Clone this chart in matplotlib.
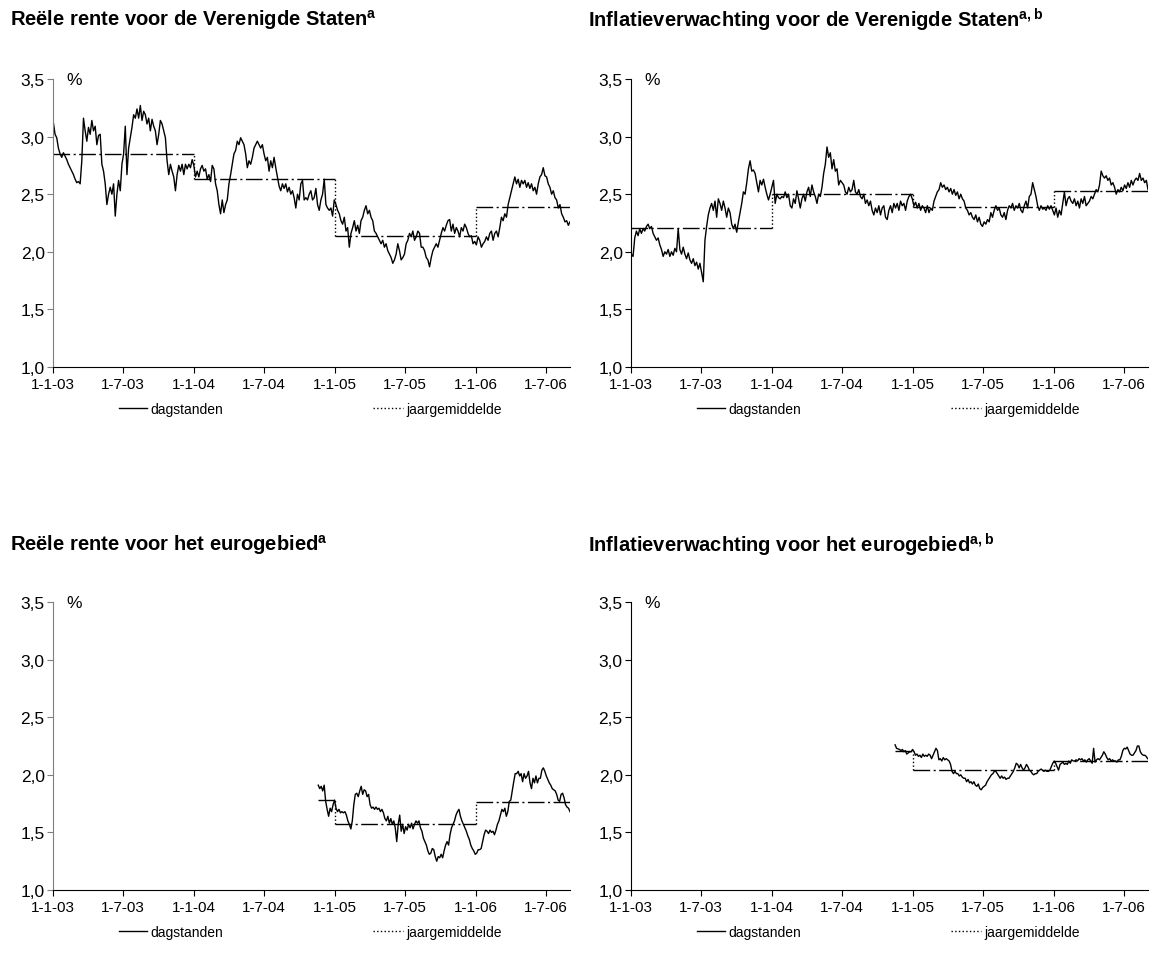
import numpy as np
import pandas as pd
import matplotlib
matplotlib.use("Agg")
import matplotlib.pyplot as plt
from matplotlib.lines import Line2D
from matplotlib.ticker import FuncFormatter

plt.rcParams['font.family'] = ['Liberation Sans', 'DejaVu Sans']
plt.rcParams['mathtext.fontset'] = 'custom'
plt.rcParams['mathtext.bf'] = 'Liberation Sans:bold'
plt.rcParams['mathtext.rm'] = 'Liberation Sans'

# ---- data ----
# daily values, evenly spread between the start and end date of each series
us_rente_start, us_rente_end = '2003-01-02', '2006-09-01'
us_rente = [
    3.12, 3.02, 2.99, 2.90, 2.85, 2.82, 2.86, 2.83, 2.80, 2.76, 2.73, 2.70, 2.67, 2.63, 2.60, 2.61,
    2.59, 2.79, 3.16, 3.05, 2.96, 3.08, 3.02, 3.14, 3.05, 3.09, 2.93, 3.01, 3.02, 2.76, 2.70, 2.59,
    2.41, 2.50, 2.56, 2.50, 2.59, 2.31, 2.50, 2.62, 2.53, 2.76, 2.85, 3.09, 2.67, 2.90, 2.99, 3.08,
    3.19, 3.16, 3.24, 3.16, 3.27, 3.14, 3.22, 3.19, 3.11, 3.16, 3.05, 3.15, 3.09, 3.05, 2.93, 3.02,
    3.14, 3.11, 3.05, 2.99, 2.79, 2.67, 2.76, 2.70, 2.65, 2.53, 2.67, 2.75, 2.70, 2.76, 2.67, 2.76,
    2.72, 2.76, 2.73, 2.80, 2.75, 2.65, 2.70, 2.65, 2.72, 2.75, 2.70, 2.72, 2.63, 2.67, 2.61, 2.75,
    2.72, 2.59, 2.53, 2.41, 2.33, 2.45, 2.34, 2.41, 2.45, 2.59, 2.67, 2.76, 2.85, 2.88, 2.96, 2.93,
    2.99, 2.96, 2.93, 2.85, 2.73, 2.79, 2.76, 2.82, 2.90, 2.93, 2.96, 2.93, 2.90, 2.93, 2.85, 2.79,
    2.82, 2.70, 2.79, 2.73, 2.82, 2.73, 2.65, 2.57, 2.53, 2.59, 2.55, 2.59, 2.52, 2.56, 2.50, 2.53,
    2.47, 2.38, 2.50, 2.45, 2.59, 2.62, 2.45, 2.47, 2.45, 2.50, 2.53, 2.45, 2.47, 2.55, 2.41, 2.36,
    2.45, 2.50, 2.63, 2.41, 2.38, 2.36, 2.38, 2.31, 2.45, 2.41, 2.36, 2.33, 2.27, 2.24, 2.30, 2.18,
    2.21, 2.04, 2.16, 2.21, 2.27, 2.18, 2.23, 2.16, 2.27, 2.30, 2.36, 2.40, 2.33, 2.36, 2.30, 2.27,
    2.18, 2.16, 2.13, 2.10, 2.07, 2.10, 2.04, 2.07, 2.01, 1.98, 1.95, 1.90, 1.93, 1.98, 2.07, 2.01,
    1.93, 1.95, 1.98, 2.07, 2.10, 2.16, 2.13, 2.18, 2.10, 2.13, 2.18, 2.16, 2.04, 2.04, 2.01, 1.95,
    1.93, 1.87, 1.95, 2.01, 2.04, 2.07, 2.04, 2.10, 2.16, 2.21, 2.18, 2.23, 2.27, 2.28, 2.18, 2.24,
    2.16, 2.21, 2.18, 2.13, 2.21, 2.18, 2.24, 2.21, 2.16, 2.13, 2.14, 2.07, 2.09, 2.06, 2.13, 2.10,
    2.04, 2.07, 2.09, 2.13, 2.10, 2.16, 2.18, 2.10, 2.16, 2.18, 2.13, 2.21, 2.30, 2.27, 2.33, 2.30,
    2.41, 2.47, 2.53, 2.59, 2.65, 2.59, 2.63, 2.56, 2.62, 2.59, 2.62, 2.56, 2.60, 2.55, 2.59, 2.53,
    2.56, 2.50, 2.59, 2.65, 2.67, 2.73, 2.66, 2.65, 2.59, 2.56, 2.50, 2.53, 2.47, 2.45, 2.38, 2.41,
    2.33, 2.30, 2.26, 2.27, 2.23, 2.26,
]

us_infl_start, us_infl_end = '2003-01-02', '2006-09-01'
us_infl = [
    1.98, 1.96, 2.12, 2.18, 2.14, 2.20, 2.16, 2.20, 2.18, 2.22, 2.24, 2.20, 2.22, 2.16, 2.13, 2.10,
    2.12, 2.06, 2.02, 1.96, 2.00, 1.98, 2.02, 1.96, 2.00, 1.97, 2.03, 2.00, 2.20, 2.02, 1.98, 2.04,
    1.98, 1.94, 1.99, 1.93, 1.90, 1.94, 1.88, 1.91, 1.85, 1.90, 1.82, 1.74, 2.10, 2.22, 2.32, 2.38,
    2.42, 2.36, 2.44, 2.30, 2.46, 2.42, 2.36, 2.44, 2.38, 2.30, 2.38, 2.34, 2.24, 2.20, 2.24, 2.17,
    2.26, 2.34, 2.42, 2.52, 2.50, 2.60, 2.72, 2.79, 2.70, 2.71, 2.68, 2.60, 2.52, 2.62, 2.58, 2.63,
    2.56, 2.50, 2.45, 2.50, 2.56, 2.62, 2.42, 2.50, 2.47, 2.46, 2.48, 2.47, 2.52, 2.47, 2.50, 2.40,
    2.38, 2.46, 2.42, 2.53, 2.46, 2.38, 2.46, 2.50, 2.44, 2.52, 2.56, 2.48, 2.58, 2.52, 2.48, 2.42,
    2.50, 2.48, 2.56, 2.68, 2.76, 2.91, 2.82, 2.86, 2.72, 2.80, 2.70, 2.72, 2.58, 2.62, 2.60, 2.58,
    2.52, 2.50, 2.56, 2.52, 2.54, 2.62, 2.52, 2.50, 2.54, 2.48, 2.46, 2.50, 2.42, 2.45, 2.40, 2.44,
    2.36, 2.32, 2.38, 2.34, 2.40, 2.32, 2.38, 2.40, 2.30, 2.28, 2.36, 2.40, 2.34, 2.42, 2.38, 2.42,
    2.36, 2.44, 2.40, 2.42, 2.36, 2.44, 2.48, 2.50, 2.46, 2.40, 2.43, 2.38, 2.42, 2.36, 2.40, 2.38,
    2.34, 2.40, 2.34, 2.38, 2.36, 2.44, 2.48, 2.52, 2.54, 2.60, 2.56, 2.58, 2.54, 2.56, 2.52, 2.55,
    2.50, 2.54, 2.49, 2.52, 2.46, 2.50, 2.46, 2.44, 2.38, 2.36, 2.32, 2.34, 2.30, 2.28, 2.32, 2.26,
    2.30, 2.24, 2.22, 2.26, 2.24, 2.28, 2.26, 2.34, 2.30, 2.36, 2.40, 2.36, 2.38, 2.32, 2.30, 2.34,
    2.28, 2.36, 2.40, 2.38, 2.42, 2.36, 2.40, 2.38, 2.42, 2.36, 2.34, 2.40, 2.44, 2.38, 2.48, 2.50,
    2.60, 2.54, 2.48, 2.40, 2.36, 2.40, 2.37, 2.38, 2.36, 2.40, 2.37, 2.40, 2.36, 2.32, 2.38, 2.30,
    2.36, 2.32, 2.42, 2.52, 2.40, 2.46, 2.48, 2.44, 2.42, 2.46, 2.40, 2.44, 2.38, 2.46, 2.42, 2.48,
    2.40, 2.42, 2.44, 2.48, 2.46, 2.50, 2.54, 2.52, 2.58, 2.70, 2.66, 2.64, 2.66, 2.62, 2.64, 2.58,
    2.60, 2.56, 2.50, 2.54, 2.52, 2.56, 2.53, 2.58, 2.55, 2.60, 2.56, 2.62, 2.58, 2.62, 2.64, 2.62,
    2.68, 2.62, 2.64, 2.60, 2.62, 2.54,
]

eu_rente_start, eu_rente_end = '2004-11-18', '2006-09-01'
eu_rente = [
    1.91, 1.88, 1.90, 1.86, 1.91, 1.77, 1.70, 1.64, 1.71, 1.68, 1.74, 1.78, 1.71, 1.68, 1.70, 1.67,
    1.68, 1.67, 1.68, 1.65, 1.60, 1.57, 1.53, 1.60, 1.74, 1.83, 1.84, 1.81, 1.86, 1.90, 1.83, 1.87,
    1.86, 1.81, 1.83, 1.74, 1.71, 1.72, 1.70, 1.72, 1.70, 1.71, 1.68, 1.70, 1.67, 1.62, 1.60, 1.64,
    1.58, 1.62, 1.57, 1.60, 1.54, 1.42, 1.57, 1.65, 1.51, 1.57, 1.49, 1.55, 1.52, 1.57, 1.54, 1.58,
    1.53, 1.57, 1.60, 1.58, 1.60, 1.54, 1.51, 1.45, 1.42, 1.39, 1.34, 1.31, 1.32, 1.36, 1.35, 1.29,
    1.25, 1.29, 1.28, 1.31, 1.28, 1.34, 1.39, 1.42, 1.39, 1.48, 1.54, 1.57, 1.60, 1.65, 1.68, 1.70,
    1.64, 1.60, 1.57, 1.54, 1.51, 1.47, 1.44, 1.39, 1.36, 1.34, 1.31, 1.32, 1.35, 1.35, 1.36, 1.42,
    1.48, 1.52, 1.51, 1.49, 1.52, 1.50, 1.51, 1.48, 1.52, 1.57, 1.60, 1.65, 1.70, 1.68, 1.71, 1.64,
    1.68, 1.77, 1.78, 1.86, 1.94, 2.01, 2.01, 2.03, 1.99, 2.01, 1.94, 2.01, 1.97, 1.99, 2.03, 1.93,
    1.88, 1.97, 1.93, 1.99, 1.93, 1.97, 1.97, 2.04, 2.06, 2.03, 1.99, 1.96, 1.93, 1.91, 1.88, 1.87,
    1.86, 1.83, 1.78, 1.77, 1.83, 1.84, 1.80, 1.74, 1.72, 1.71, 1.68,
]

eu_infl_start, eu_infl_end = '2004-11-15', '2006-08-31'
eu_infl = [
    2.26, 2.23, 2.225, 2.22, 2.21, 2.22, 2.20, 2.21, 2.18, 2.19, 2.20, 2.20, 2.22, 2.20, 2.17, 2.18,
    2.16, 2.17, 2.15, 2.18, 2.16, 2.17, 2.16, 2.18, 2.17, 2.14, 2.17, 2.20, 2.23, 2.21, 2.13, 2.14,
    2.12, 2.15, 2.13, 2.14, 2.13, 2.12, 2.09, 2.03, 2.01, 2.03, 2.01, 2.01, 1.99, 2.00, 1.98, 1.97,
    1.97, 1.94, 1.96, 1.93, 1.94, 1.92, 1.94, 1.91, 1.90, 1.92, 1.88, 1.87, 1.89, 1.90, 1.91, 1.94,
    1.96, 1.98, 2.00, 2.01, 2.03, 2.03, 2.01, 1.99, 1.97, 1.99, 1.97, 1.98, 1.96, 1.97, 1.97, 1.99,
    2.01, 2.03, 2.06, 2.10, 2.09, 2.06, 2.09, 2.06, 2.04, 2.06, 2.09, 2.07, 2.04, 2.03, 2.01, 2.00,
    2.01, 2.01, 2.03, 2.04, 2.05, 2.04, 2.03, 2.04, 2.03, 2.03, 2.04, 2.07, 2.10, 2.12, 2.10, 2.07,
    2.04, 2.09, 2.10, 2.11, 2.09, 2.10, 2.09, 2.12, 2.10, 2.13, 2.12, 2.12, 2.13, 2.12, 2.14, 2.13,
    2.14, 2.12, 2.13, 2.11, 2.13, 2.14, 2.12, 2.10, 2.23, 2.11, 2.13, 2.14, 2.13, 2.15, 2.17, 2.20,
    2.18, 2.15, 2.13, 2.14, 2.12, 2.13, 2.12, 2.12, 2.11, 2.13, 2.13, 2.16, 2.21, 2.23, 2.225, 2.24,
    2.21, 2.18, 2.17, 2.17, 2.19, 2.21, 2.25, 2.25, 2.20, 2.18, 2.17, 2.17, 2.16, 2.14,
]

# yearly averages (jaargemiddelde)
us_years = [2003, 2004, 2005, 2006]
us_rente_avg = [2.85, 2.63, 2.135, 2.39]
us_infl_avg = [2.21, 2.50, 2.39, 2.525]
eu_years = [2004, 2005, 2006]
eu_rente_avg = [1.78, 1.575, 1.765]
eu_infl_avg = [2.21, 2.04, 2.12]

titles = [
    r'Reële rente voor de Verenigde Staten$^{\mathbf{a}}$',
    r'Inflatieverwachting voor de Verenigde Staten$^{\mathbf{a,b}}$',
    r'Reële rente voor het eurogebied$^{\mathbf{a}}$',
    r'Inflatieverwachting voor het eurogebied$^{\mathbf{a,b}}$',
]
tick_dates = pd.date_range('2003-01-01', '2006-07-01', freq='6MS')
x_min, x_max = pd.Timestamp('2003-01-01'), pd.Timestamp('2006-09-01')

panels = [
    (us_rente, us_rente_start, us_rente_end, us_years, us_rente_avg),
    (us_infl, us_infl_start, us_infl_end, us_years, us_infl_avg),
    (eu_rente, eu_rente_start, eu_rente_end, eu_years, eu_rente_avg),
    (eu_infl, eu_infl_start, eu_infl_end, eu_years, eu_infl_avg),
]

W, H = 1151, 954
fig = plt.figure(figsize=(W / 100, H / 100), dpi=100)

# axes boxes in pixels: left, top, right, bottom
boxes = [(53, 80, 570, 368), (631, 80, 1148, 368),
         (53, 603, 570, 891), (631, 603, 1148, 891)]
title_pos = [(10, 20), (588, 20), (10, 545), (588, 545)]
legend_y = [410, 410, 933, 933]

avg_style = (0, (12, 2.5, 1.5, 2.5))

for i, (vals, start, end, years, avgs) in enumerate(panels):
    l, t, r, b = boxes[i]
    ax = fig.add_axes([l / W, 1 - b / H, (r - l) / W, (b - t) / H])

    dates = pd.date_range(start, end, periods=len(vals))
    ax.plot(dates, vals, color='black', lw=1.0)

    # yearly averages as steps
    s0, s1 = pd.Timestamp(start), pd.Timestamp(end)
    for j, (yr, av) in enumerate(zip(years, avgs)):
        a = max(pd.Timestamp(f'{yr}-01-01'), s0)
        e = min(pd.Timestamp(f'{yr + 1}-01-01'), s1)
        ax.hlines(av, a, e, colors='black', lw=1.0, linestyles=[avg_style])
        if j + 1 < len(avgs):
            ax.vlines(pd.Timestamp(f'{yr + 1}-01-01'), min(av, avgs[j + 1]),
                      max(av, avgs[j + 1]), colors='black', lw=1.0, linestyles=':')

    ax.set_xlim(x_min, x_max)
    ax.set_ylim(1.0, 3.5)
    ax.set_yticks(np.arange(1.0, 3.51, 0.5))
    ax.yaxis.set_major_formatter(FuncFormatter(lambda v, p: f'{v:.1f}'.replace('.', ',')))
    ax.set_xticks(tick_dates)
    ax.set_xticklabels([f'{d.day}-{d.month}-{d.year % 100:02d}' for d in tick_dates])

    for sp in ['top', 'right']:
        ax.spines[sp].set_visible(False)
    spine_col = '#7f7f7f' if i % 2 == 0 else 'black'
    ax.spines['left'].set_color(spine_col)
    ax.spines['bottom'].set_color('black')
    ax.tick_params(axis='y', direction='out', length=4, labelsize=12.5, pad=2, color=spine_col)
    ax.tick_params(axis='x', direction='out', length=4, labelsize=11, pad=3)
    # lift the lowest y label a touch so it clears the first date label
    ax.get_yticklabels()[0].set_va('center_baseline')
    ax.text(0.025, 1.0, '%', transform=ax.transAxes, fontsize=12.5, va='center', ha='left')

    tx, ty = title_pos[i]
    fig.text(tx / W, 1 - ty / H, titles[i], fontsize=14.5, fontweight='bold', va='center', ha='left')

    h1 = Line2D([], [], color='black', lw=1.0)
    h2 = Line2D([], [], color='black', lw=1.0, linestyle=':')
    ly = -(legend_y[i] - b) / (b - t)
    leg1 = ax.legend([h1], ['dagstanden'], loc='center left', bbox_to_anchor=(0.115, ly),
                     frameon=False, fontsize=10, handlelength=2.0, handletextpad=0.25, borderpad=0)
    ax.add_artist(leg1)
    ax.legend([h2], ['jaargemiddelde'], loc='center left', bbox_to_anchor=(0.605, ly),
              frameon=False, fontsize=10, handlelength=2.2, handletextpad=0.25, borderpad=0)

fig.savefig('out.png', dpi=100)
